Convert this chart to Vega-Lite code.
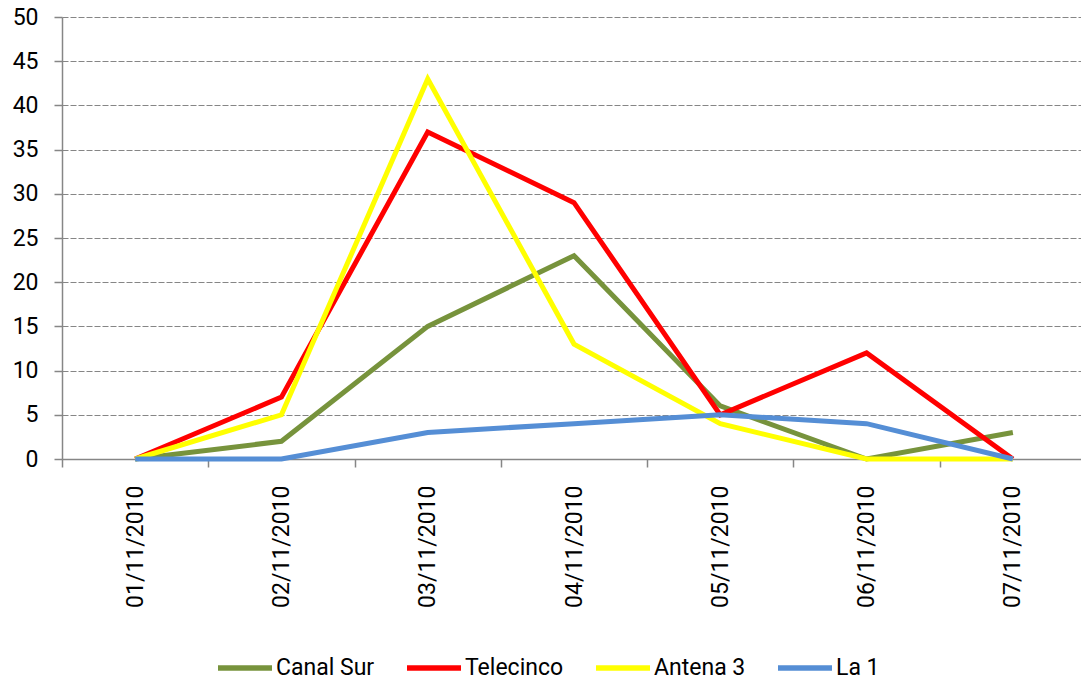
{
  "$schema": "https://vega.github.io/schema/vega-lite/v6.json",
  "width": 1024,
  "height": 442,
  "autosize": {"type": "none"},
  "padding": {"left": 62, "top": 17, "right": 0, "bottom": 221},
  "background": "white",
  "config": {
    "view": {"stroke": null},
    "font": "Roboto",
    "axis": {"labelFont": "Roboto", "labelFontSize": 23, "labelColor": "#000000", "domainColor": "#868686", "tickColor": "#868686", "domainWidth": 1.5, "tickWidth": 1.5},
    "legend": {"labelFont": "Roboto", "labelFontSize": 23, "labelColor": "#000000", "padding": 0}
  },
  "data": {
    "values": [
      {"date": "01/11/2010", "channel": "Canal Sur", "value": 0},
      {"date": "02/11/2010", "channel": "Canal Sur", "value": 2},
      {"date": "03/11/2010", "channel": "Canal Sur", "value": 15},
      {"date": "04/11/2010", "channel": "Canal Sur", "value": 23},
      {"date": "05/11/2010", "channel": "Canal Sur", "value": 6},
      {"date": "06/11/2010", "channel": "Canal Sur", "value": 0},
      {"date": "07/11/2010", "channel": "Canal Sur", "value": 3},
      {"date": "01/11/2010", "channel": "Telecinco", "value": 0},
      {"date": "02/11/2010", "channel": "Telecinco", "value": 7},
      {"date": "03/11/2010", "channel": "Telecinco", "value": 37},
      {"date": "04/11/2010", "channel": "Telecinco", "value": 29},
      {"date": "05/11/2010", "channel": "Telecinco", "value": 5},
      {"date": "06/11/2010", "channel": "Telecinco", "value": 12},
      {"date": "07/11/2010", "channel": "Telecinco", "value": 0},
      {"date": "01/11/2010", "channel": "Antena 3", "value": 0},
      {"date": "02/11/2010", "channel": "Antena 3", "value": 5},
      {"date": "03/11/2010", "channel": "Antena 3", "value": 43},
      {"date": "04/11/2010", "channel": "Antena 3", "value": 13},
      {"date": "05/11/2010", "channel": "Antena 3", "value": 4},
      {"date": "06/11/2010", "channel": "Antena 3", "value": 0},
      {"date": "07/11/2010", "channel": "Antena 3", "value": 0},
      {"date": "01/11/2010", "channel": "La 1", "value": 0},
      {"date": "02/11/2010", "channel": "La 1", "value": 0},
      {"date": "03/11/2010", "channel": "La 1", "value": 3},
      {"date": "04/11/2010", "channel": "La 1", "value": 4},
      {"date": "05/11/2010", "channel": "La 1", "value": 5},
      {"date": "06/11/2010", "channel": "La 1", "value": 4},
      {"date": "07/11/2010", "channel": "La 1", "value": 0}
    ]
  },
  "mark": {"type": "line", "strokeWidth": 5},
  "encoding": {
    "x": {
      "field": "date",
      "type": "ordinal",
      "sort": null,
      "scale": {"type": "band", "paddingInner": 0, "paddingOuter": 0},
      "axis": {"title": null, "labelAngle": -90, "tickBand": "extent", "tickSize": 8, "labelPadding": 18, "grid": false}
    },
    "y": {
      "field": "value",
      "type": "quantitative",
      "scale": {"domain": [0, 50], "nice": false},
      "axis": {"title": null, "values": [0, 5, 10, 15, 20, 25, 30, 35, 40, 45, 50], "tickSize": 8, "labelPadding": 16, "grid": true, "gridColor": "#868686", "gridDash": [6, 2], "gridWidth": 1.2}
    },
    "color": {
      "field": "channel",
      "type": "nominal",
      "sort": null,
      "scale": {"domain": ["Canal Sur", "Telecinco", "Antena 3", "La 1"], "range": ["#77933C", "#FF0000", "#FFFF00", "#558ED5"]},
      "legend": {
        "title": null,
        "orient": "none",
        "direction": "horizontal",
        "legendX": 153,
        "legendY": 621,
        "symbolType": "stroke",
        "symbolSize": 2916,
        "symbolStrokeWidth": 5.5,
        "labelOffset": 1,
        "columnPadding": 21
      }
    }
  }
}
